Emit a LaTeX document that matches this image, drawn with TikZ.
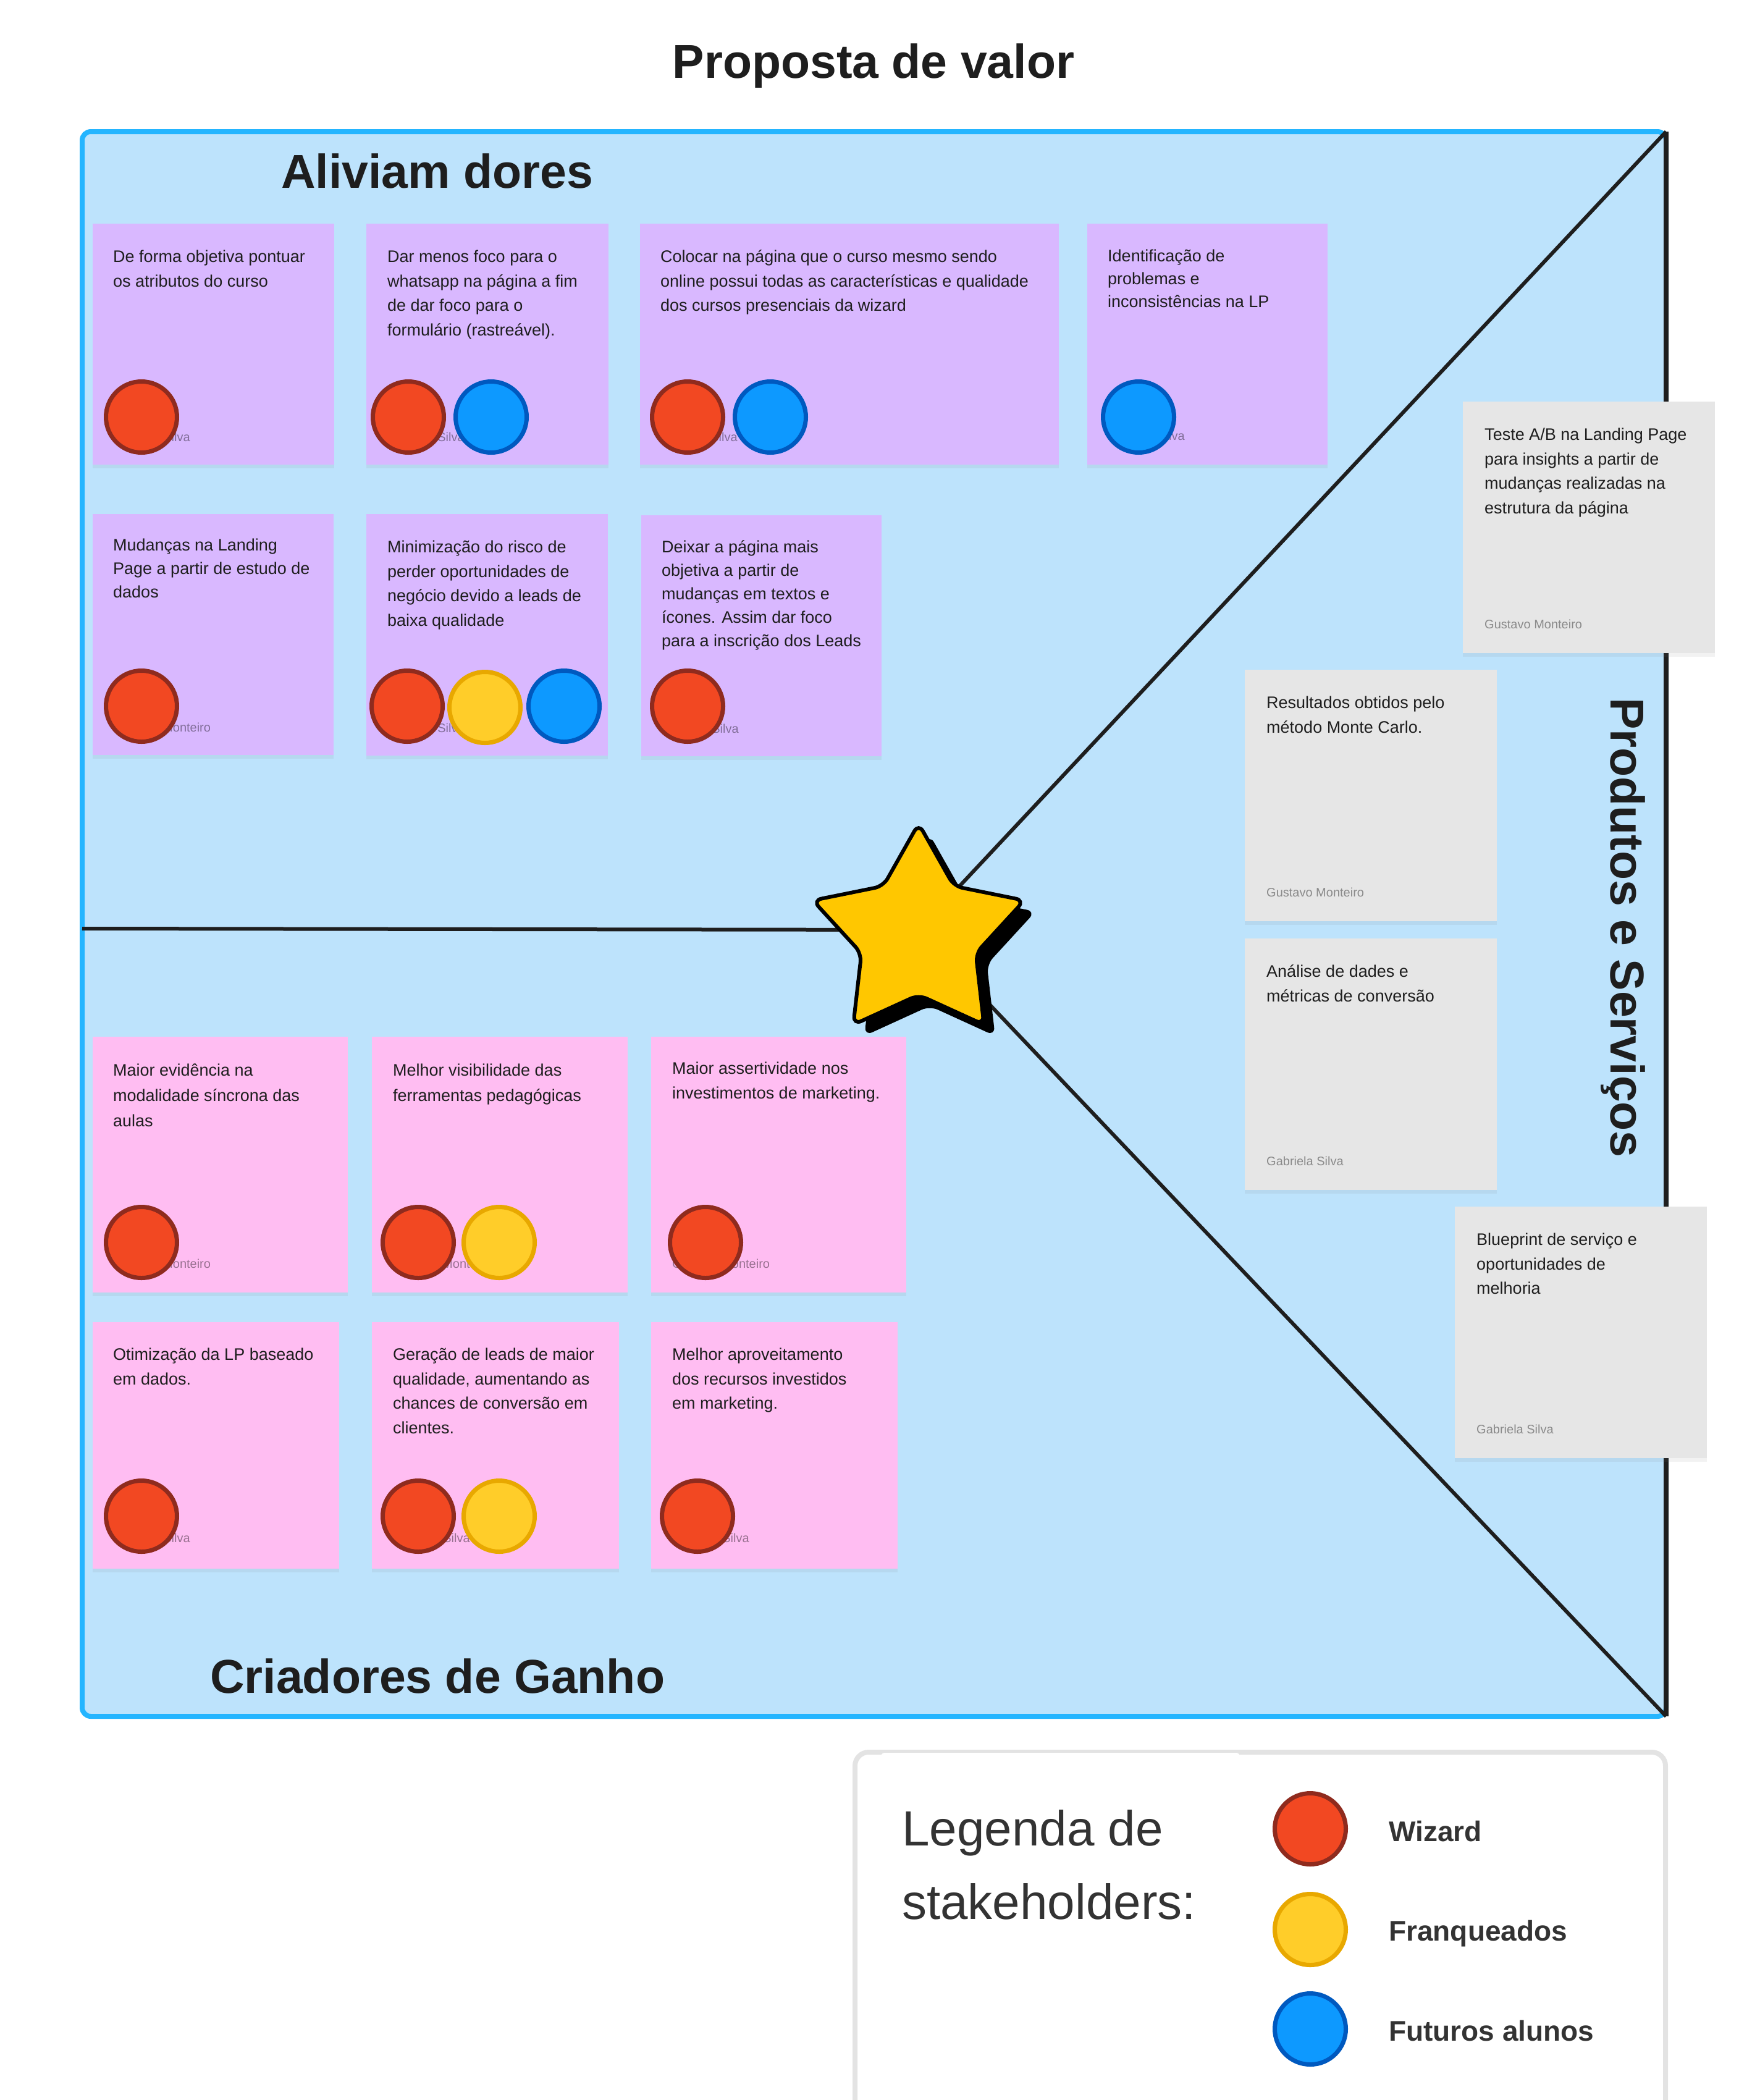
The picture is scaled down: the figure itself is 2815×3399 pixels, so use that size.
\documentclass[tikz,border=0pt]{standalone}
\usepackage{fontspec}
\setmainfont{Liberation Sans}
\usetikzlibrary{shapes.geometric,shadows}
\definecolor{canvas}{HTML}{BDE3FC}
\definecolor{frame}{HTML}{24B5FF}
\definecolor{ink}{HTML}{1E1E1E}
\definecolor{lilac}{HTML}{D9B8FF}
\definecolor{rosa}{HTML}{FFBDF2}
\definecolor{cinza}{HTML}{E6E6E6}
\definecolor{wizfill}{HTML}{F24822}
\definecolor{wizline}{HTML}{8F2B1E}
\definecolor{frqfill}{HTML}{FFCD29}
\definecolor{frqline}{HTML}{E8A800}
\definecolor{alufill}{HTML}{0D99FF}
\definecolor{aluline}{HTML}{0059BF}
\definecolor{starfill}{HTML}{FFC700}
\definecolor{legedge}{HTML}{E3E3E3}
\definecolor{legink}{HTML}{333333}

\begin{document}
\begin{tikzpicture}[x=1pt,y=-1pt,
    note/.style={rectangle,inner sep=0pt,anchor=north west,
        drop shadow={opacity=0.10,shadow xshift=0pt,shadow yshift=-6pt}},
    lilacnote/.style={note,fill=lilac},
    rosanote/.style={note,fill=rosa},
    cinzanote/.style={note,fill=cinza,minimum width=408pt,minimum height=407pt},
    notetxt/.style={anchor=north west,inner sep=0pt,align=left,text=ink,
        font=\fontsize{27}{39.5}\selectfont},
    author/.style={anchor=base west,inner sep=0pt,text=black,text opacity=0.4,
        font=\fontsize{20}{24}\selectfont},
    dot/.style={circle,minimum size=115pt,inner sep=0pt,line width=7pt},
    wizard/.style={dot,fill=wizfill,draw=wizline},
    franq/.style={dot,fill=frqfill,draw=frqline},
    aluno/.style={dot,fill=alufill,draw=aluline},
    heading/.style={inner sep=0pt,text=ink,font=\bfseries\fontsize{77}{90}\selectfont},
    divider/.style={draw=ink,line width=6pt},
    legtxt/.style={anchor=base west,inner sep=0pt,text=legink,
        font=\bfseries\fontsize{46}{55}\selectfont}]

\useasboundingbox (0,0) rectangle (2815,3399);

% canvas
\draw[draw=frame,fill=canvas,line width=8pt,rounded corners=14pt] (133,213) rectangle (2697,2778);
\coordinate (ml) at (133,1503);
\coordinate (hub) at (1487,1505);
\coordinate (tr) at (2697,213);
\coordinate (br) at (2697,2778);
\draw[divider] (ml) -- (hub);
\draw[divider] (hub) -- (tr);
\draw[divider] (hub) -- (br);
\draw[divider,line width=8pt] (tr) -- (br);

% titles
\node[heading,anchor=base] (title) at (1414,126) {Proposta de valor};
\node[heading,anchor=base west] (dores) at (455,304) {Aliviam dores};
\node[heading,anchor=base west] (ganho) at (340,2740) {Criadores de Ganho};
\node[heading,anchor=base west,rotate=-90] (prod) at (2607,1129) {Produtos e Serviços};

% aliviam dores
\node[lilacnote,minimum width=391pt,minimum height=390pt] (n1) at (150,362) {};
\node[notetxt] (n1t) at ([shift={(33,35)}]n1.north west) {\strut De forma objetiva pontuar\\os atributos do curso};
\node[author] (n1w) at ([shift={(33,-38)}]n1.south west) {Gabriela Silva};
\node[wizard] (n1a) at (229,675) {};

\node[lilacnote,minimum width=392pt,minimum height=390pt] (n2) at (593,362) {};
\node[notetxt] (n2t) at ([shift={(34,35)}]n2.north west) {\strut Dar menos foco para o\\whatsapp na página a fim\\de dar foco para o\\formulário (rastreável).};
\node[author] (n2w) at ([shift={(34,-38)}]n2.south west) {Gabriela Silva};
\node[wizard] (n2a) at (661,675) {};
\node[aluno] (n2b) at (795,675) {};

\node[lilacnote,minimum width=678pt,minimum height=390pt] (n3) at (1036,362) {};
\node[notetxt] (n3t) at ([shift={(33,35)}]n3.north west) {\strut Colocar na página que o curso mesmo sendo\\online possui todas as características e qualidade\\dos cursos presenciais da wizard};
\node[author] (n3w) at ([shift={(33,-38)}]n3.south west) {Gabriela Silva};
\node[wizard] (n3a) at (1113,675) {};
\node[aluno] (n3b) at (1247,675) {};

\node[lilacnote,minimum width=389pt,minimum height=390pt] (n4) at (1760,362) {};
\node[notetxt,font=\fontsize{27}{37}\selectfont] (n4t) at ([shift={(33,35)}]n4.north west) {\strut Identificação de\\problemas e\\inconsistências na LP};
\node[author] (n4w) at ([shift={(33,-40)}]n4.south west) {Gabriela Silva};
\node[aluno] (n4a) at (1843,675) {};

\node[lilacnote,minimum width=390pt,minimum height=390pt] (n5) at (150,832) {};
\node[notetxt,font=\fontsize{27}{38}\selectfont] (n5t) at ([shift={(33,33)}]n5.north west) {\strut Mudanças na Landing\\Page a partir de estudo de\\dados};
\node[author] (n5w) at ([shift={(33,-38)}]n5.south west) {Gustavo Monteiro};
\node[wizard] (n5a) at (229,1143) {};

\node[lilacnote,minimum width=391pt,minimum height=391pt] (n6) at (593,832) {};
\node[notetxt] (n6t) at ([shift={(34,35)}]n6.north west) {\strut Minimização do risco de\\perder oportunidades de\\negócio devido a leads de\\baixa qualidade};
\node[author] (n6w) at ([shift={(34,-38)}]n6.south west) {Gabriela Silva};
\node[wizard] (n6a) at (659,1143) {};
\node[franq] (n6b) at (785,1145) {};
\node[aluno] (n6c) at (913,1143) {};

\node[lilacnote,minimum width=389pt,minimum height=390pt] (n7) at (1038,834) {};
\node[notetxt,font=\fontsize{27}{38}\selectfont] (n7t) at ([shift={(33,34)}]n7.north west) {\strut Deixar a página mais\\objetiva a partir de\\mudanças em textos e\\ícones. Assim dar foco\\para a inscrição dos Leads};
\node[author] (n7w) at ([shift={(33,-38)}]n7.south west) {Gabriela Silva};
\node[wizard] (n7a) at (1113,1143) {};

% criadores de ganho
\node[rosanote,minimum width=413pt,minimum height=414pt] (n8) at (150,1678) {};
\node[notetxt,font=\fontsize{27}{41}\selectfont] (n8t) at ([shift={(33,35)}]n8.north west) {\strut Maior evidência na\\modalidade síncrona das\\aulas};
\node[author] (n8w) at ([shift={(33,-40)}]n8.south west) {Gustavo Monteiro};
\node[wizard] (n8a) at (229,2011) {};

\node[rosanote,minimum width=414pt,minimum height=414pt] (n9) at (602,1678) {};
\node[notetxt,font=\fontsize{27}{41}\selectfont] (n9t) at ([shift={(34,35)}]n9.north west) {\strut Melhor visibilidade das\\ferramentas pedagógicas};
\node[author] (n9w) at ([shift={(34,-40)}]n9.south west) {Gustavo Monteiro};
\node[wizard] (n9a) at (677,2011) {};
\node[franq] (n9b) at (808,2011) {};

\node[rosanote,minimum width=413pt,minimum height=414pt] (n10) at (1054,1678) {};
\node[notetxt] (n10t) at ([shift={(34,33)}]n10.north west) {\strut Maior assertividade nos\\investimentos de marketing.};
\node[author] (n10w) at ([shift={(34,-40)}]n10.south west) {Gustavo Monteiro};
\node[wizard] (n10a) at (1142,2011) {};

\node[rosanote,minimum width=399pt,minimum height=399pt] (n11) at (150,2140) {};
\node[notetxt] (n11t) at ([shift={(33,34)}]n11.north west) {\strut Otimização da LP baseado\\em dados.};
\node[author] (n11w) at ([shift={(33,-43)}]n11.south west) {Gabriela Silva};
\node[wizard] (n11a) at (229,2454) {};

\node[rosanote,minimum width=400pt,minimum height=399pt] (n12) at (602,2140) {};
\node[notetxt] (n12t) at ([shift={(34,34)}]n12.north west) {\strut Geração de leads de maior\\qualidade, aumentando as\\chances de conversão em\\clientes.};
\node[author] (n12w) at ([shift={(34,-43)}]n12.south west) {Gabriela Silva};
\node[wizard] (n12a) at (677,2454) {};
\node[franq] (n12b) at (808,2454) {};

\node[rosanote,minimum width=399pt,minimum height=399pt] (n13) at (1054,2140) {};
\node[notetxt] (n13t) at ([shift={(34,34)}]n13.north west) {\strut Melhor aproveitamento\\dos recursos investidos\\em marketing.};
\node[author] (n13w) at ([shift={(34,-43)}]n13.south west) {Gabriela Silva};
\node[wizard] (n13a) at (1129,2454) {};

% produtos e servicos
\node[cinzanote] (g1) at (2368,650) {};
\node[notetxt] (g1t) at ([shift={(35,35)}]g1.north west) {\strut Teste A/B na Landing Page\\para insights a partir de\\mudanças realizadas na\\estrutura da página};
\node[author] (g1w) at ([shift={(35,-40)}]g1.south west) {Gustavo Monteiro};

\node[cinzanote] (g2) at (2015,1084) {};
\node[notetxt] (g2t) at ([shift={(35,35)}]g2.north west) {\strut Resultados obtidos pelo\\método Monte Carlo.};
\node[author] (g2w) at ([shift={(35,-40)}]g2.south west) {Gustavo Monteiro};

\node[cinzanote] (g3) at (2015,1519) {};
\node[notetxt] (g3t) at ([shift={(35,35)}]g3.north west) {\strut Análise de dades e\\métricas de conversão};
\node[author] (g3w) at ([shift={(35,-40)}]g3.south west) {Gabriela Silva};

\node[cinzanote] (g4) at (2355,1953) {};
\node[notetxt] (g4t) at ([shift={(35,35)}]g4.north west) {\strut Blueprint de serviço e\\oportunidades de\\melhoria};
\node[author] (g4w) at ([shift={(35,-40)}]g4.south west) {Gabriela Silva};

% star
\node[star,star points=5,star point ratio=1.85,minimum size=360pt,inner sep=0pt,
    fill=black,rounded corners=14pt] (vshade) at (1505,1531) {};
\node[star,star points=5,star point ratio=1.85,minimum size=360pt,inner sep=0pt,
    fill=starfill,draw=black,line width=6pt,rounded corners=14pt] (vstar) at (1487,1513) {};

% legenda
\draw[draw=legedge,fill=white,line width=8pt,rounded corners=22pt] (1384,2836) rectangle (2696,3470);
\fill[white,rounded corners=6pt] (1426,2837) rectangle (2007,2900);
\node[anchor=north west,inner sep=0pt,align=left,text=legink,
    font=\fontsize{80}{119}\selectfont] (legtitle) at (1460,2904) {\strut Legenda de\\stakeholders:};
\node[wizard] (lw) at (2121,2960) {};
\node[franq] (lf) at (2121,3123) {};
\node[aluno] (la) at (2121,3284) {};
\node[legtxt] (lwt) at (2248,2980) {Wizard};
\node[legtxt] (lft) at (2248,3141) {Franqueados};
\node[legtxt] (lat) at (2248,3303) {Futuros alunos};
\end{tikzpicture}
\end{document}
